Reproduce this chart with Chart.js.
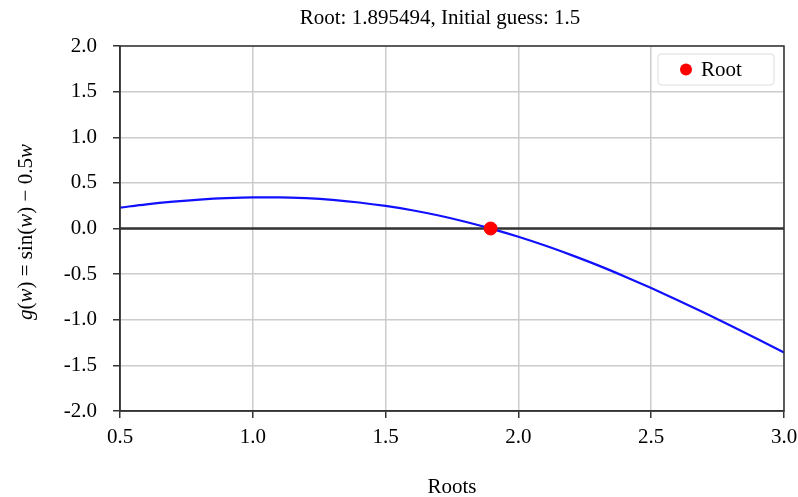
<!DOCTYPE html>
<html>
<head>
<meta charset="utf-8">
<script src="https://cdn.jsdelivr.net/npm/chart.js@4/dist/chart.umd.min.js"></script>
<style>
  html, body { margin: 0; padding: 0; background: #fff; }
</style>
</head>
<body>
<canvas id="rootChart" width="798" height="497"></canvas>
<script>
// values
const wValues = [0.5, 0.6, 0.7, 0.8, 0.9, 1.0, 1.1, 1.2, 1.3, 1.4, 1.5, 1.6, 1.7,
    1.8, 1.9, 2.0, 2.1, 2.2, 2.3, 2.4, 2.5, 2.6, 2.7, 2.8, 2.9, 3.0];
const gValues = [0.229, 0.265, 0.294, 0.317, 0.333, 0.341, 0.341, 0.332, 0.314, 0.285,
    0.247, 0.200, 0.142, 0.074, -0.004, -0.091, -0.187, -0.292, -0.404, -0.525,
    -0.652, -0.785, -0.923, -1.065, -1.211, -1.359];
const rootValue = 1.895494;
const initialGuess = 1.5;
const xRange = [0.5, 3.0];
const yRange = [-2.0, 2.0];
const tickStep = 0.5;

const serif = '"Liberation Serif", "DejaVu Serif", serif';
const fontSize = 21;
const dark = '#333333';

const curvePoints = wValues.map((w, i) => ({ x: w, y: gValues[i] }));

// chart title and y axis label (italic variables) drawn by hand
const textPlugin = {
    id: 'texts',
    afterDraw(chart) {
        const ctx = chart.ctx;
        ctx.save();
        ctx.fillStyle = '#000';
        ctx.textBaseline = 'middle';
        ctx.textAlign = 'center';
        ctx.font = fontSize + 'px ' + serif;
        ctx.fillText(`Root: ${rootValue.toFixed(6)}, Initial guess: ${initialGuess}`, 440, 18);

        const parts = [
            ['g', true], ['(', false], ['w', true], [') = sin(', false],
            ['w', true], [') \u2212 0.5', false], ['w', true]
        ];
        const fontFor = it => (it ? 'italic ' : '') + fontSize + 'px ' + serif;
        let total = 0;
        parts.forEach(p => { ctx.font = fontFor(p[1]); total += ctx.measureText(p[0]).width; });
        ctx.translate(26, 232);
        ctx.rotate(-Math.PI / 2);
        ctx.textAlign = 'left';
        let x = -total / 2;
        parts.forEach(p => {
            ctx.font = fontFor(p[1]);
            ctx.fillText(p[0], x, 0);
            x += ctx.measureText(p[0]).width;
        });
        ctx.restore();
    }
};

// frame around plot + boxed legend in the top right
const framePlugin = {
    id: 'frame',
    afterDraw(chart) {
        const ctx = chart.ctx;
        const a = chart.chartArea;
        ctx.save();
        ctx.strokeStyle = dark;
        ctx.lineWidth = 1.5;
        ctx.strokeRect(a.left, a.top, a.right - a.left, a.bottom - a.top);

        const bx = a.right - 126, by = a.top + 8, bw = 116, bh = 31;
        ctx.beginPath();
        ctx.roundRect(bx, by, bw, bh, 3);
        ctx.fillStyle = '#fff';
        ctx.fill();
        ctx.strokeStyle = '#dddddd';
        ctx.lineWidth = 1;
        ctx.stroke();

        ctx.beginPath();
        ctx.arc(bx + 28, by + bh / 2, 6, 0, Math.PI * 2);
        ctx.fillStyle = 'red';
        ctx.fill();
        ctx.fillStyle = '#000';
        ctx.font = fontSize + 'px ' + serif;
        ctx.textBaseline = 'middle';
        ctx.fillText('Root', bx + 43, by + bh / 2 + 1);
        ctx.restore();
    }
};

const ctx = document.getElementById('rootChart').getContext('2d');
new Chart(ctx, {
    type: 'scatter',
    data: {
        datasets: [
            {
                label: 'g(w)',
                data: curvePoints,
                showLine: true,
                borderColor: '#1010ff',
                borderWidth: 2.2,
                pointRadius: 0,
                cubicInterpolationMode: 'monotone',
                order: 2
            },
            {
                label: 'zero',
                data: [{ x: xRange[0], y: 0 }, { x: xRange[1], y: 0 }],
                showLine: true,
                borderColor: dark,
                borderWidth: 2.5,
                pointRadius: 0,
                order: 3
            },
            {
                label: 'Root',
                data: [{ x: rootValue, y: 0 }],
                backgroundColor: 'red',
                borderColor: 'red',
                pointRadius: 6.5,
                order: 1
            }
        ]
    },
    options: {
        responsive: false,
        animation: false,
        layout: { padding: { left: 0, right: 14, top: 46, bottom: 0 } },
        plugins: {
            legend: { display: false },
            tooltip: { enabled: false },
            title: { display: false }
        },
        scales: {
            x: {
                type: 'linear',
                min: xRange[0],
                max: xRange[1],
                ticks: {
                    stepSize: tickStep,
                    color: '#000',
                    font: { family: serif, size: fontSize },
                    padding: 7,
                    callback: v => v.toFixed(1)
                },
                grid: { color: '#cccccc', lineWidth: 1.5, tickColor: dark, tickLength: 7 },
                border: { color: dark, width: 1.5 },
                title: {
                    display: true,
                    text: 'Roots',
                    color: '#000',
                    font: { family: serif, size: fontSize },
                    padding: { top: 0, bottom: -3 }
                },
                afterFit: scale => {
                    scale.height = 86;
                    scale.paddingLeft = 0;
                    scale.paddingRight = 0;
                }
            },
            y: {
                min: yRange[0],
                max: yRange[1],
                ticks: {
                    stepSize: tickStep,
                    color: '#000',
                    font: { family: serif, size: fontSize },
                    padding: 16,
                    callback: v => v.toFixed(1)
                },
                grid: { color: '#cccccc', lineWidth: 1.5, tickColor: dark, tickLength: 7 },
                border: { color: dark, width: 1.5 },
                afterFit: scale => {
                    scale.width = 120;
                    scale.paddingTop = 0;
                    scale.paddingBottom = 0;
                }
            }
        }
    },
    plugins: [textPlugin, framePlugin]
});
</script>
</body>
</html>
